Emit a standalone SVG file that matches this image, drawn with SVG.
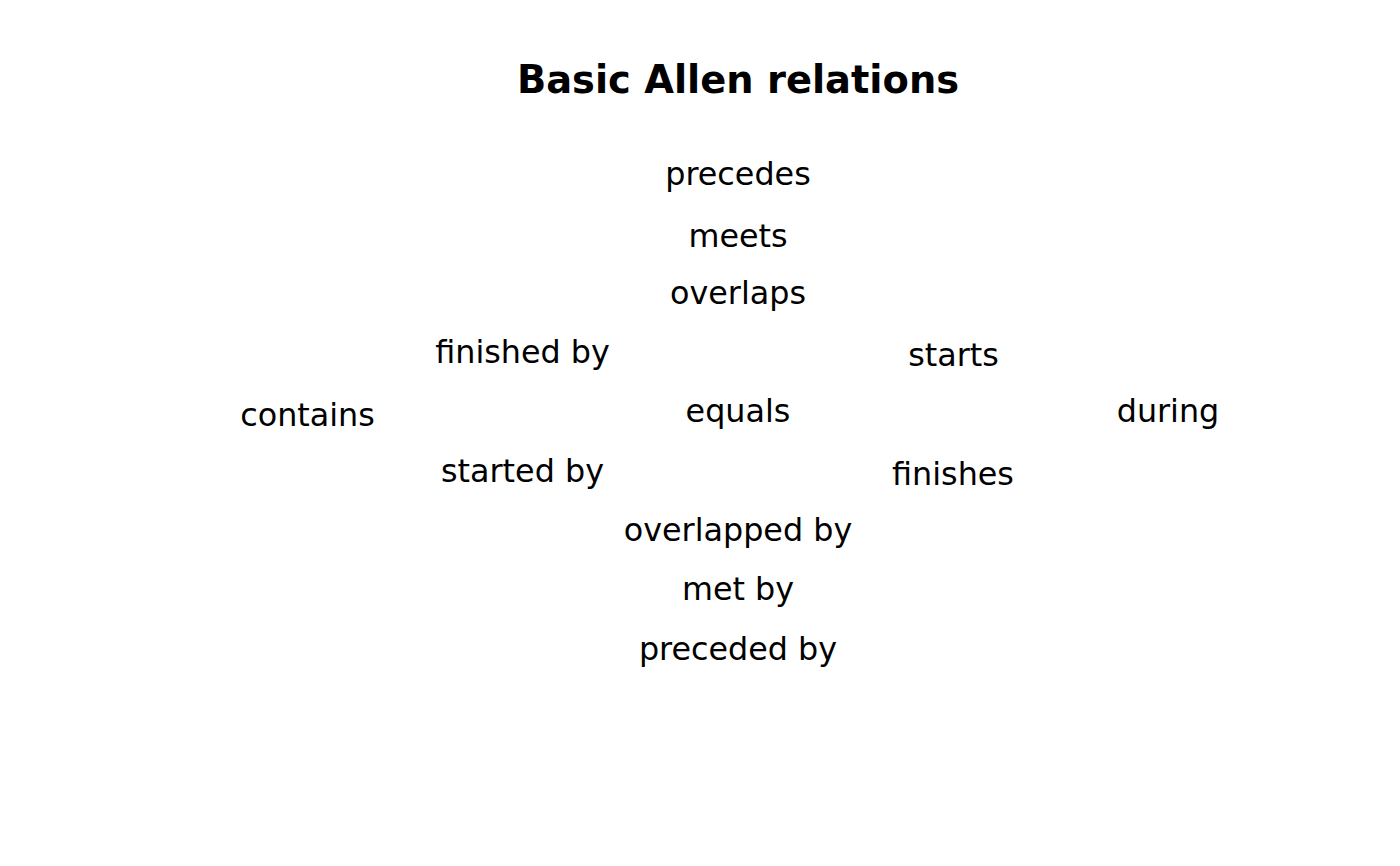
<svg xmlns="http://www.w3.org/2000/svg" width="1400" height="866" viewBox="0 0 1400 866">
<style>
text{font-family:"DejaVu Sans","Liberation Sans",sans-serif;text-anchor:middle;fill:#000}
.t{font-size:38.4px;font-weight:bold}
.n{font-size:31.8px}
</style>
<rect width="1400" height="866" fill="#fff"/>
<text class="t" x="738" y="93">Basic Allen relations</text>
<g id="connectors"></g>
<g id="precedes"><text class="n" x="738" y="185">precedes</text></g>
<g id="meets"><text class="n" x="738" y="247">meets</text></g>
<g id="overlaps"><text class="n" x="738" y="304">overlaps</text></g>
<g id="finished_by"><text class="n" x="522.5" y="363">finished by</text></g>
<g id="starts"><text class="n" x="953.5" y="365.5">starts</text></g>
<g id="contains"><text class="n" x="307.5" y="425.5">contains</text></g>
<g id="equals"><text class="n" x="738" y="422">equals</text></g>
<g id="during"><text class="n" x="1168" y="422">during</text></g>
<g id="started_by"><text class="n" x="522.5" y="481.5">started by</text></g>
<g id="finishes"><text class="n" x="953" y="485">finishes</text></g>
<g id="overlapped_by"><text class="n" x="738" y="541">overlapped by</text></g>
<g id="met_by"><text class="n" x="738" y="600">met by</text></g>
<g id="preceded_by"><text class="n" x="738" y="660">preceded by</text></g>
</svg>
